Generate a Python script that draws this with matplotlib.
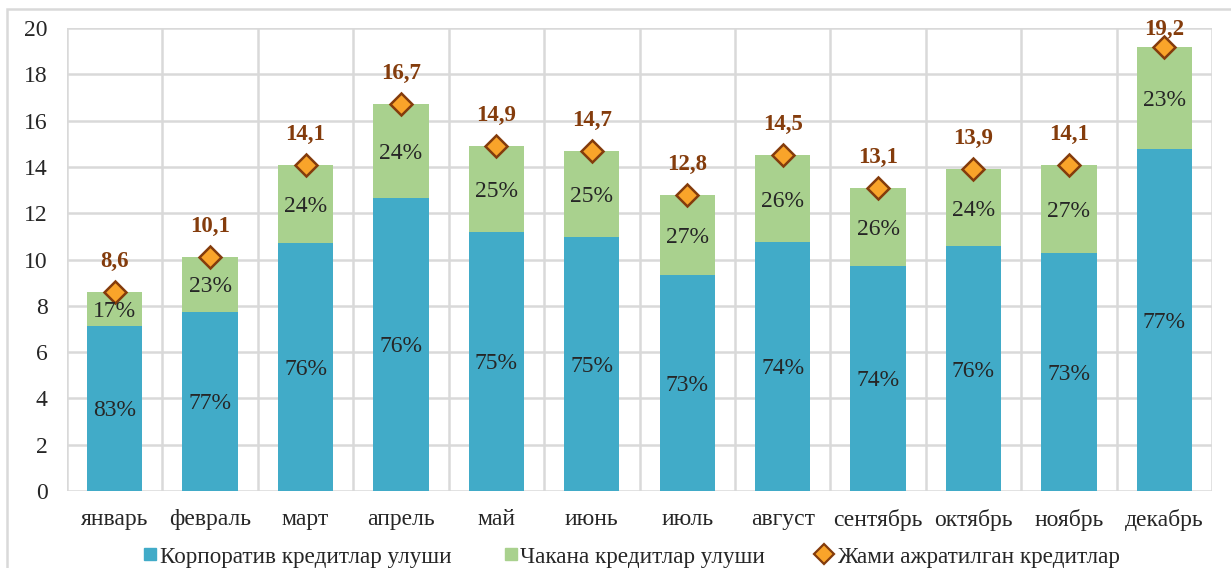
import matplotlib
matplotlib.use("Agg")
import matplotlib.pyplot as plt
from matplotlib.patches import Rectangle
from matplotlib.lines import Line2D
import numpy as np

months = ["январь", "февраль", "март", "апрель", "май", "июнь", "июль",
          "август", "сентябрь", "октябрь", "ноябрь", "декабрь"]
totals = [8.6, 10.1, 14.1, 16.7, 14.9, 14.7, 12.8, 14.5, 13.1, 13.9, 14.1, 19.2]
corporate = [7.13, 7.75, 10.7, 12.66, 11.2, 10.97, 9.34, 10.76, 9.74, 10.58, 10.3, 14.77]
corp_pct = [83, 77, 76, 76, 75, 75, 73, 74, 74, 76, 73, 77]
retail_pct = [17, 23, 24, 24, 25, 25, 27, 26, 26, 24, 27, 23]
total_labels = ["8,6", "10,1", "14,1", "16,7", "14,9", "14,7", "12,8", "14,5",
                "13,1", "13,9", "14,1", "19,2"]
yticks = [0, 2, 4, 6, 8, 10, 12, 14, 16, 18, 20]
legend_labels = ["Корпоратив кредитлар улуши", "Чакана кредитлар улуши",
                 "Жами ажратилган кредитлар"]

retail = [t - c for t, c in zip(totals, corporate)]

plt.rcParams['font.family'] = ['Liberation Serif', 'DejaVu Serif']

W, H = 1231, 568
fig = plt.figure(figsize=(W / 100, H / 100), dpi=100)
ax = fig.add_axes([67 / W, 1 - 491 / H, (1212 - 67) / W, (491 - 28) / H])

blue = "#41ABC8"
green = "#A9D18E"
grid = "#D9D9D9"
mface = "#F9A42A"
medge = "#843C0C"
txt = "#262626"
FS = 17

x = np.arange(len(months))
bw = 0.58
ax.bar(x, corporate, bw, color=blue, zorder=2)
ax.bar(x, retail, bw, bottom=corporate, color=green, zorder=2)
ax.plot(x, totals, linestyle="none", marker="D", markersize=11.5,
        markerfacecolor=mface, markeredgecolor=medge, markeredgewidth=1.8, zorder=4)

for i in range(len(months)):
    ax.text(x[i], corporate[i] / 2, f"{corp_pct[i]}%", ha="center", va="center_baseline",
            fontsize=FS, color=txt, zorder=5)
    ax.text(x[i], corporate[i] + retail[i] / 2, f"{retail_pct[i]}%", ha="center",
            va="center_baseline", fontsize=FS, color=txt, zorder=5)
    ax.text(x[i], min(totals[i] + 1.08, 19.7), total_labels[i], ha="center", va="baseline",
            fontsize=16.5, fontweight="bold", color=medge, zorder=5)

ax.set_xlim(-0.5, len(months) - 0.5)
ax.set_ylim(0, 20)
ax.set_yticks(yticks)
ax.set_yticklabels([str(v) for v in yticks], fontsize=FS, color=txt)
ax.set_xticks(x)
ax.set_xticklabels(months, fontsize=FS, color=txt)
ax.set_xticks(np.arange(-0.5, len(months), 1.0), minor=True)
ax.tick_params(axis="x", which="both", length=0, pad=13)
ax.tick_params(axis="y", length=0, pad=14)
ax.grid(True, axis="y", which="major", color=grid, linewidth=1.8, zorder=0)
ax.grid(True, axis="x", which="minor", color=grid, linewidth=1.8, zorder=0)
for s in ax.spines.values():
    s.set_visible(False)

# legend drawn entry by entry
leg_base = 1 - 563 / H
leg_mark = 1 - 554 / H
marker_x = [150, 511, 824]
text_x = [160, 520, 837]
specs = [dict(marker="s", markersize=9, markerfacecolor=blue, markeredgecolor=blue),
         dict(marker="s", markersize=9, markerfacecolor=green, markeredgecolor=green),
         dict(marker="D", markersize=10, markerfacecolor=mface, markeredgecolor=medge,
              markeredgewidth=1.6)]
for mx, tx, sp, lab in zip(marker_x, text_x, specs, legend_labels):
    fig.add_artist(Line2D([mx / W], [leg_mark], transform=fig.transFigure, linestyle="none", **sp))
    fig.text(tx / W, leg_base, lab, ha="left", va="baseline", fontsize=16.7, color=txt)

fig.patches.append(Rectangle((7 / W, -0.05), 1.2, 1 - 9 / H + 0.05, transform=fig.transFigure,
                             fill=False, edgecolor=grid, linewidth=1.8, zorder=0))

fig.savefig("out.png", dpi=100)
